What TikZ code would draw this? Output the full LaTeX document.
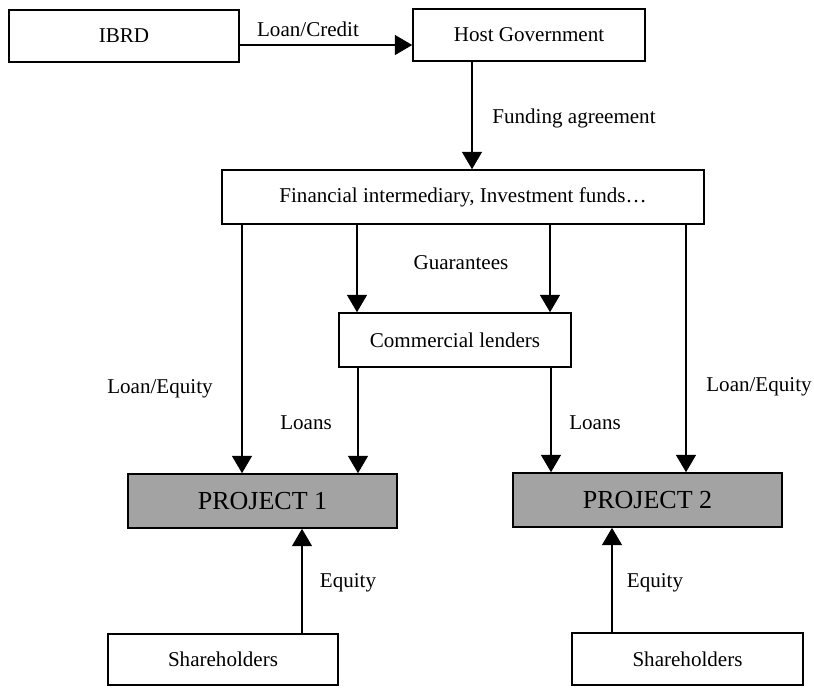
\documentclass[tikz,border=0pt]{standalone}
\usepackage{fontspec}
\setmainfont{Liberation Serif}
\usetikzlibrary{arrows.meta}
\begin{document}
\begin{tikzpicture}[x=0.75pt,y=-0.75pt,
  box/.style={draw, line width=1.2pt, rectangle, inner sep=0pt, fill=white, font=\fontsize{15.8}{18}\selectfont},
  proj/.style={box, fill=black!36, font=\fontsize{19.5}{22}\selectfont},
  lbl/.style={inner sep=0pt, font=\fontsize{15.8}{18}\selectfont},
  arr/.style={line width=0.9pt, -{Triangle[width=15pt,length=13pt]}}]
\useasboundingbox (0,0) rectangle (814,687);
\node[box, minimum width=172.5pt, minimum height=39pt] (ibrd) at (124,36) {IBRD};
\node[box, minimum width=174pt, minimum height=39pt] (host) at (529,35) {Host Government};
\node[box, minimum width=361.5pt, minimum height=40.5pt] (fi) at (463,197) {Financial intermediary, Investment funds\ldots};
\node[box, minimum width=174pt, minimum height=40.5pt] (cl) at (455,340) {Commercial lenders};
\node[proj, minimum width=201.75pt, minimum height=40.5pt] (p1) at (262.5,501) {PROJECT 1};
\node[proj, minimum width=201.75pt, minimum height=40.5pt] (p2) at (647.5,500) {PROJECT 2};
\node[box, minimum width=172.5pt, minimum height=38.25pt] (sh1) at (223,659.5) {Shareholders};
\node[box, minimum width=173.25pt, minimum height=39pt] (sh2) at (687.5,659) {Shareholders};

\draw[arr] (ibrd.east |- 0,45) -- (host.west |- 0,45);
\draw[arr] (host.south -| 472,0) -- (fi.north -| 472,0);
\draw[arr] (fi.south -| 242,0) -- (p1.north -| 242,0);
\draw[arr] (fi.south -| 357,0) -- (cl.north -| 357,0);
\draw[arr] (fi.south -| 550,0) -- (cl.north -| 550,0);
\draw[arr] (fi.south -| 686,0) -- (p2.north -| 686,0);
\draw[arr] (cl.south -| 358,0) -- (p1.north -| 358,0);
\draw[arr] (cl.south -| 551,0) -- (p2.north -| 551,0);
\draw[arr] (sh1.north -| 302,0) -- (p1.south -| 302,0);
\draw[arr] (sh2.north -| 612,0) -- (p2.south -| 612,0);

\node[lbl] (lc) at (308,29) {Loan/Credit};
\node[lbl] (fa) at (574,118) {Funding agreement};
\node[lbl] (gu) at (461,263) {Guarantees};
\node[lbl] (le1) at (160,389) {Loan/Equity};
\node[lbl] (le2) at (759,387) {Loan/Equity};
\node[lbl] (lo1) at (306,423) {Loans};
\node[lbl] (lo2) at (595,423) {Loans};
\node[lbl] (eq1) at (348,583) {Equity};
\node[lbl] (eq2) at (655,583) {Equity};
\end{tikzpicture}
\end{document}
